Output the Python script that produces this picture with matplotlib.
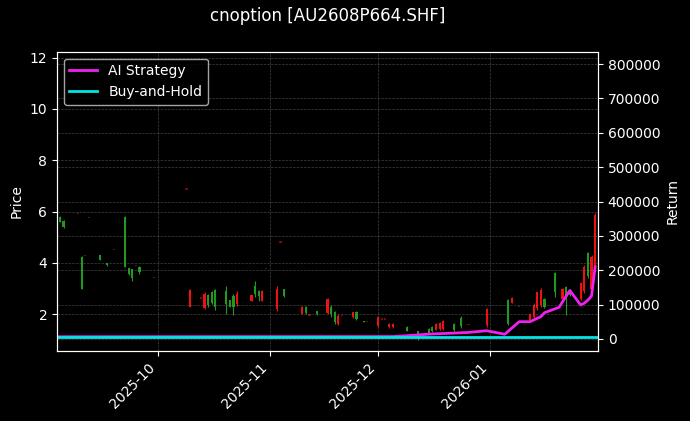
import matplotlib
matplotlib.use("Agg")
import matplotlib.pyplot as plt
import matplotlib.dates as mdates
import numpy as np
import pandas as pd

# daily candles (open, high, low, close); open == close marks a doji
candle_dates = [
    "2025-09-04", "2025-09-05", "2025-09-09", "2025-09-10", "2025-09-11", "2025-09-12",
    "2025-09-15", "2025-09-17", "2025-09-19", "2025-09-22", "2025-09-23", "2025-09-24",
    "2025-09-25", "2025-09-26", "2025-09-30", "2025-10-09", "2025-10-10", "2025-10-13",
    "2025-10-14", "2025-10-15", "2025-10-16", "2025-10-17", "2025-10-20", "2025-10-21",
    "2025-10-22", "2025-10-23", "2025-10-27", "2025-10-28", "2025-10-29", "2025-10-30",
    "2025-10-31", "2025-11-03", "2025-11-04", "2025-11-05", "2025-11-10", "2025-11-11",
    "2025-11-12", "2025-11-14", "2025-11-17", "2025-11-18", "2025-11-19", "2025-11-20",
    "2025-11-21", "2025-11-24", "2025-11-25", "2025-11-27", "2025-11-28", "2025-12-01",
    "2025-12-02", "2025-12-03", "2025-12-04", "2025-12-05", "2025-12-09", "2025-12-12",
    "2025-12-15", "2025-12-16", "2025-12-17", "2025-12-18", "2025-12-19", "2025-12-22",
    "2025-12-24", "2025-12-26", "2025-12-31", "2026-01-06", "2026-01-07", "2026-01-09",
    "2026-01-12", "2026-01-13", "2026-01-14", "2026-01-15", "2026-01-16", "2026-01-19",
    "2026-01-21", "2026-01-22", "2026-01-23", "2026-01-26", "2026-01-27", "2026-01-28",
    "2026-01-29", "2026-01-30",
]
opens = [
    5.80, 5.64, 5.92, 4.25, 4.28, 5.78, 4.30, 4.00, 4.52, 5.80, 3.80, 3.76,
    3.90, 3.85, 3.42, 6.88, 2.30, 2.63, 2.25, 2.75, 2.85, 2.95, 2.90, 2.55,
    2.70, 2.40, 2.52, 3.10, 2.90, 2.52, 3.78, 2.20, 4.82, 3.00, 2.03, 2.30,
    1.97, 2.14, 2.05, 2.30, 2.10, 1.62, 1.95, 1.88, 2.10, 1.75, 1.73, 1.55,
    1.82, 1.82, 1.50, 1.50, 1.52, 1.35, 1.44, 1.52, 1.40, 1.42, 1.42, 1.62,
    1.85, 1.60, 1.58, 2.55, 2.45, 2.30, 1.78, 1.90, 2.25, 2.35, 2.60, 3.60,
    2.58, 3.05, 2.95, 2.58, 2.90, 4.40, 3.00, 3.90,
]
highs = [
    5.82, 5.66, 5.92, 4.27, 4.28, 5.78, 4.32, 4.01, 4.52, 5.82, 3.82, 3.78,
    3.90, 3.87, 3.42, 6.88, 3.00, 2.63, 2.87, 2.80, 2.89, 3.00, 3.12, 2.56,
    2.80, 2.89, 2.77, 3.28, 2.93, 2.93, 3.78, 3.10, 4.82, 3.00, 2.31, 2.31,
    1.97, 2.14, 2.64, 2.36, 2.12, 2.00, 1.95, 2.10, 2.13, 1.75, 1.73, 1.93,
    1.82, 1.82, 1.65, 1.65, 1.54, 1.36, 1.45, 1.56, 1.65, 1.69, 1.78, 1.65,
    1.93, 1.60, 2.23, 2.58, 2.68, 2.30, 2.04, 2.43, 2.88, 3.01, 2.62, 3.66,
    3.01, 3.10, 2.98, 3.27, 3.92, 4.44, 4.31, 5.93,
]
lows = [
    5.58, 5.37, 5.92, 2.97, 4.28, 5.78, 4.10, 3.90, 4.52, 3.84, 3.52, 3.29,
    3.90, 3.58, 3.42, 6.88, 2.27, 2.63, 2.21, 2.27, 2.40, 2.18, 2.00, 2.27,
    1.97, 2.31, 2.50, 2.67, 2.53, 2.50, 3.78, 2.12, 4.82, 2.67, 2.01, 2.00,
    1.97, 1.99, 2.00, 1.91, 1.62, 1.58, 1.95, 1.86, 1.78, 1.70, 1.73, 1.52,
    1.82, 1.82, 1.48, 1.48, 1.33, 1.00, 1.26, 1.31, 1.39, 1.39, 1.39, 1.36,
    1.45, 1.60, 1.52, 1.58, 2.43, 2.30, 1.75, 1.84, 2.17, 2.30, 2.26, 2.68,
    2.56, 1.97, 2.70, 2.56, 2.82, 3.40, 2.95, 3.85,
]
closes = [
    5.60, 5.40, 5.92, 3.00, 4.28, 5.78, 4.12, 3.92, 4.52, 3.86, 3.55, 3.40,
    3.90, 3.65, 3.42, 6.88, 2.95, 2.63, 2.80, 2.35, 2.45, 2.30, 2.40, 2.30,
    2.30, 2.80, 2.75, 2.80, 2.70, 2.90, 3.78, 3.00, 4.82, 2.70, 2.30, 2.05,
    1.97, 2.00, 2.60, 2.00, 1.70, 1.95, 1.95, 2.08, 1.80, 1.71, 1.73, 1.90,
    1.82, 1.82, 1.63, 1.62, 1.36, 1.10, 1.28, 1.35, 1.62, 1.66, 1.75, 1.40,
    1.55, 1.60, 2.19, 1.62, 2.65, 2.30, 2.02, 2.36, 2.85, 2.95, 2.30, 2.85,
    2.98, 2.60, 2.75, 3.20, 3.85, 3.50, 4.25, 5.85,
]

# equity curves (right axis)
strategy_dates = [
    "2025-09-03", "2025-12-05", "2025-12-09", "2025-12-15", "2025-12-26", "2025-12-31",
    "2026-01-05", "2026-01-09", "2026-01-12", "2026-01-15", "2026-01-16", "2026-01-20",
    "2026-01-23", "2026-01-26", "2026-01-27", "2026-01-28", "2026-01-29", "2026-01-30",
]
strategy_values = [
    6500, 7000, 9500, 14000, 19000, 24000,
    13700, 50300, 50300, 64900, 76500, 92000,
    141000, 99000, 104000, 113000, 125000, 210000,
]
hold_dates = ["2025-09-03", "2026-01-31"]
hold_values = [6500, 6500]

candle_dates = pd.to_datetime(candle_dates)
strategy_dates = pd.to_datetime(strategy_dates)
hold_dates = pd.to_datetime(hold_dates)
opens, highs = np.array(opens), np.array(highs)
lows, closes = np.array(lows), np.array(closes)

plt.style.use("dark_background")
fig = plt.figure(figsize=(6.9, 4.21), dpi=100)
ax = fig.add_axes([0.0826, 0.1663, 0.7841, 0.7109])
ax2 = ax.twinx()

up = closes > opens
down = closes < opens
doji = closes == opens
red, green = "#ee1111", "#1f9a1f"

x = mdates.date2num(candle_dates)
for mask, col in [(up, red), (down, green)]:
    ax.vlines(x[mask], lows[mask], highs[mask], color=col, lw=0.8)
    ax.bar(x[mask], np.abs(closes - opens)[mask], bottom=np.minimum(opens, closes)[mask],
           width=0.6, color=col, edgecolor=col, lw=0)
ax.bar(x[doji], 0.05, bottom=closes[doji] - 0.025, width=0.6, color="#7a0a0a", lw=0)

ax2.plot(strategy_dates, strategy_values, color="#ee22ee", lw=2, label="AI Strategy")
ax2.plot(hold_dates, hold_values, color="#00e5e5", lw=2, label="Buy-and-Hold")

ax.set_xlim(mdates.date2num(pd.Timestamp("2025-09-03")) + 0.2,
            mdates.date2num(pd.Timestamp("2026-01-30")) + 0.8)
ax.set_ylim(0.57, 12.23)
ax2.set_ylim(-35000, 836000)
ax.set_yticks([2, 4, 6, 8, 10, 12])

ax.xaxis.set_major_locator(mdates.MonthLocator())
ax.xaxis.set_major_formatter(mdates.DateFormatter("%Y-%m"))
plt.setp(ax.get_xticklabels(), rotation=45, ha="right")

ax.set_ylabel("Price")
ax2.set_ylabel("Return")
ax.set_title("cnoption [AU2608P664.SHF]", fontsize=12, pad=22)

ax.grid(True, color="gray", linestyle="--", linewidth=0.5, alpha=0.5)
ax2.grid(True, axis="y", color="gray", linestyle="--", linewidth=0.5, alpha=0.5)
ax2.legend(loc="upper left", facecolor="black", edgecolor="#cccccc")

fig.savefig("out.png", dpi=100)
